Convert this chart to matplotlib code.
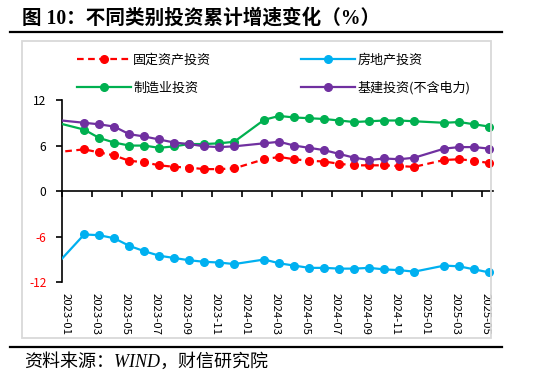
import matplotlib
matplotlib.use("Agg")
import matplotlib.pyplot as plt
from matplotlib.lines import Line2D
from matplotlib.patches import Rectangle

# ---------------- data ----------------
months = ["2022-12",
          "2023-02", "2023-03", "2023-04", "2023-05", "2023-06", "2023-07", "2023-08",
          "2023-09", "2023-10", "2023-11", "2023-12",
          "2024-02", "2024-03", "2024-04", "2024-05", "2024-06", "2024-07", "2024-08",
          "2024-09", "2024-10", "2024-11", "2024-12",
          "2025-02", "2025-03", "2025-04", "2025-05"]
fai = [5.1,
       5.5, 5.1, 4.7, 4.0, 3.8, 3.4, 3.2, 3.1, 2.9, 2.9, 3.0,
       4.2, 4.5, 4.2, 4.0, 3.9, 3.6, 3.4, 3.4, 3.4, 3.3, 3.2,
       4.1, 4.2, 4.0, 3.7]
real_estate = [-10.0,
               -5.7, -5.8, -6.2, -7.2, -7.9, -8.5, -8.8, -9.1, -9.3, -9.4, -9.6,
               -9.0, -9.5, -9.8, -10.1, -10.1, -10.2, -10.2, -10.1, -10.3, -10.4, -10.6,
               -9.8, -9.9, -10.3, -10.7]
manufacturing = [9.1,
                 8.1, 7.0, 6.4, 6.0, 6.0, 5.7, 5.9, 6.2, 6.2, 6.3, 6.5,
                 9.4, 9.9, 9.7, 9.6, 9.5, 9.3, 9.1, 9.2, 9.3, 9.3, 9.2,
                 9.0, 9.1, 8.8, 8.5]
infrastructure = [9.4,
                  9.0, 8.8, 8.5, 7.5, 7.2, 6.8, 6.4, 6.2, 5.9, 5.8, 5.9,
                  6.3, 6.5, 6.0, 5.7, 5.4, 4.9, 4.4, 4.1, 4.3, 4.2, 4.4,
                  5.6, 5.8, 5.8, 5.6]
tick_labels = ["2023-01", "2023-03", "2023-05", "2023-07", "2023-09", "2023-11",
               "2024-01", "2024-03", "2024-05", "2024-07", "2024-09", "2024-11",
               "2025-01", "2025-03", "2025-05"]
series_names = ["固定资产投资", "房地产投资", "制造业投资", "基建投资(不含电力)"]
y_ticks = [-12, -6, 0, 6, 12]

title = "图 10：不同类别投资累计增速变化（%）"
source = "资料来源：WIND，财信研究院"


def month_index(s):
    y, m = s.split("-")
    return (int(y) - 2023) * 12 + int(m) - 1


x = [month_index(m) for m in months]
label_x = [month_index(t) for t in tick_labels]

RED = "#FF0000"
BLUE = "#00B0F0"
GREEN = "#00B050"
PURPLE = "#7030A0"

plt.rcParams["font.family"] = ["Noto Sans CJK SC", "DejaVu Sans"]

W, H = 550, 376
fig = plt.figure(figsize=(W / 100, H / 100), dpi=100)

def fx(px):
    return px / W

def fy(py):
    return 1 - py / H

# frame box
fig.patches.append(Rectangle((fx(22), fy(338)), fx(491) - fx(22), fy(40.7) - fy(338),
                             transform=fig.transFigure, fill=False,
                             edgecolor="#d9d9d9", lw=1.3, zorder=0))
# title rules
fig.add_artist(Line2D([fx(10), fx(502)], [fy(31.7), fy(31.7)], color="black", lw=1.6))
fig.add_artist(Line2D([fx(10), fx(502)], [fy(346.5), fy(346.5)], color="black", lw=1.6))

fig.text(fx(22), fy(18.5), title, fontsize=14.1, fontweight="bold",
         family=["Liberation Serif", "Noto Sans CJK SC"], va="center", ha="left")
fig.text(fx(24), fy(362), source, fontsize=13, style="italic",
         family=["Liberation Serif", "Noto Sans CJK SC"], va="center", ha="left")

ax = fig.add_axes([fx(61.7), fy(282.3), fx(493) - fx(61.7), fy(100) - fy(282.3)])
ax.patch.set_alpha(0)

ms = 5.5
lw = 1.6
l_red, = ax.plot(x, fai, color=RED, lw=lw, dashes=(3, 2), marker="o", ms=ms, zorder=3)
l_blue, = ax.plot(x, real_estate, color=BLUE, lw=lw, marker="o", ms=ms, zorder=3)
l_green, = ax.plot(x, manufacturing, color=GREEN, lw=lw, marker="o", ms=ms, zorder=3)
l_purple, = ax.plot(x, infrastructure, color=PURPLE, lw=lw, marker="o", ms=ms, zorder=4)

ax.set_xlim(-0.5, 28.25)
ax.set_ylim(-12, 12)

for s in ["top", "right"]:
    ax.spines[s].set_visible(False)
ax.spines["bottom"].set_position(("data", 0))
ax.spines["left"].set_linewidth(1.2)
ax.spines["bottom"].set_linewidth(1.2)

ax.set_yticks(y_ticks)
ax.set_yticklabels([str(v) for v in y_ticks])
ax.tick_params(axis="y", direction="out", length=4, width=1.2, pad=7, labelsize=8.6)
for lab, v in zip(ax.get_yticklabels(), y_ticks):
    lab.set_color(RED if v < 0 else "black")

ax.set_xticks([v - 0.5 for v in label_x])
ax.set_xticklabels([])
ax.set_xticks([v - 0.25 for v in label_x], minor=True)
ax.set_xticklabels(tick_labels, minor=True, rotation=270)
ax.tick_params(axis="x", which="major", direction="out", length=4, width=1.2)
ax.tick_params(axis="x", which="minor", length=0, pad=73, labelsize=8.2)
for lab in ax.get_xticklabels(minor=True):
    lab.set_va("top")
    lab.set_ha("center")

handles = [l_red, l_green, l_blue, l_purple]
labels = [series_names[0], series_names[2], series_names[1], series_names[3]]
ax.legend(handles, labels, ncol=2, loc="upper left",
          bbox_to_anchor=(fx(77), fy(54)), bbox_transform=fig.transFigure,
          frameon=False, handlelength=4.1, handletextpad=0.2, columnspacing=6.9,
          labelspacing=1.1, borderpad=0, borderaxespad=0, fontsize=9.4)

fig.savefig("out.png", dpi=100)
